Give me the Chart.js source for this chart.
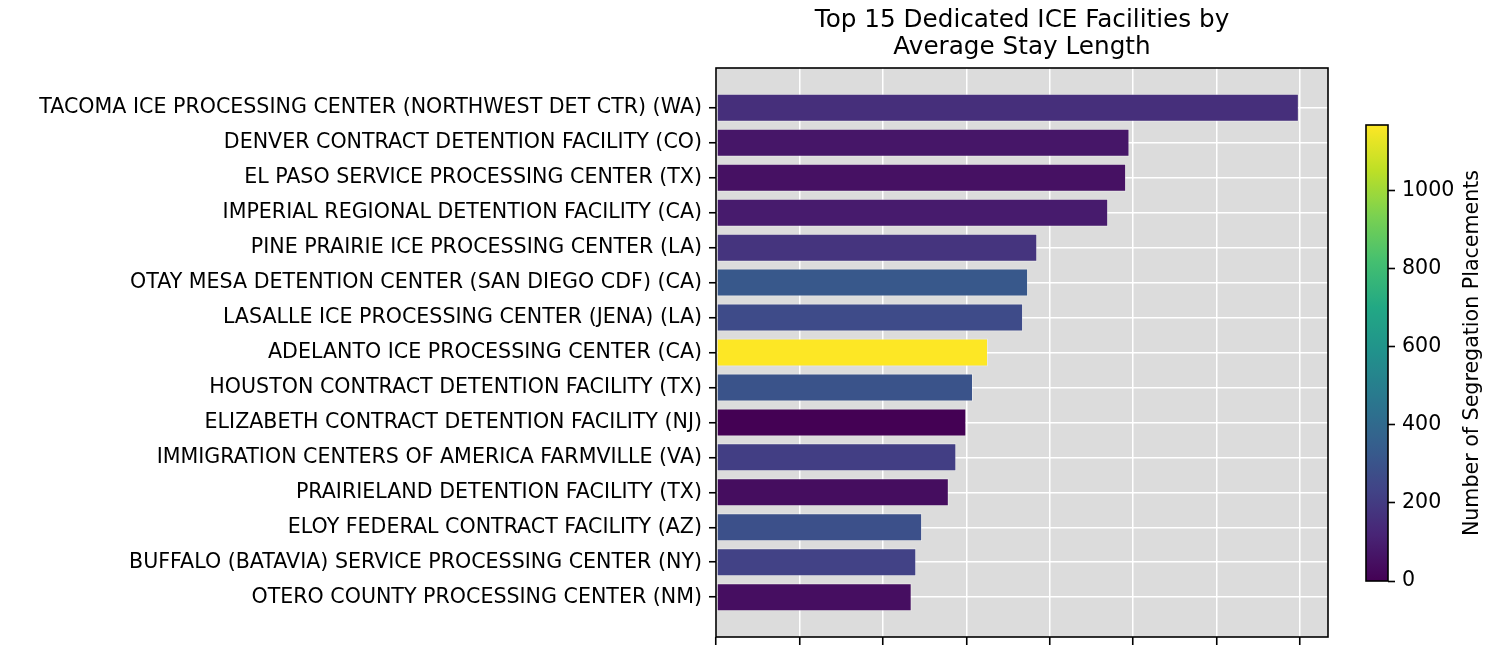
<!DOCTYPE html>
<html>
<head>
<meta charset="utf-8">
<script src="https://cdn.jsdelivr.net/npm/chart.js@4.4.1/dist/chart.umd.min.js"></script>
<style>
  body { margin: 0; background: #fff; }
  #wrap { position: relative; width: 1500px; height: 650px; }
  #main { position: absolute; left: 0; top: 0; }
  #cbar { position: absolute; left: 1340px; top: 0; }
</style>
</head>
<body>
<div id="wrap">
  <canvas id="main" width="1500" height="650"></canvas>
  <canvas id="cbar" width="160" height="650"></canvas>
</div>
<script>
// facilities, top to bottom
var facilities = [
    'TACOMA ICE PROCESSING CENTER (NORTHWEST DET CTR) (WA)',
    'DENVER CONTRACT DETENTION FACILITY (CO)',
    'EL PASO SERVICE PROCESSING CENTER (TX)',
    'IMPERIAL REGIONAL DETENTION FACILITY (CA)',
    'PINE PRAIRIE ICE PROCESSING CENTER (LA)',
    'OTAY MESA DETENTION CENTER (SAN DIEGO CDF) (CA)',
    'LASALLE ICE PROCESSING CENTER (JENA) (LA)',
    'ADELANTO ICE PROCESSING CENTER (CA)',
    'HOUSTON CONTRACT DETENTION FACILITY (TX)',
    'ELIZABETH CONTRACT DETENTION FACILITY (NJ)',
    'IMMIGRATION CENTERS OF AMERICA FARMVILLE (VA)',
    'PRAIRIELAND DETENTION FACILITY (TX)',
    'ELOY FEDERAL CONTRACT FACILITY (AZ)',
    'BUFFALO (BATAVIA) SERVICE PROCESSING CENTER (NY)',
    'OTERO COUNTY PROCESSING CENTER (NM)'
];
var avgStay = [69.85, 49.55, 49.15, 47.0, 38.5, 37.4, 36.8, 32.6, 30.8, 30.0, 28.8, 27.9, 24.7, 24.0, 23.45];
var placements = [158, 70, 53, 88, 175, 320, 263, 1167, 300, 0, 212, 40, 285, 225, 45];
var xTicks = [0, 10, 20, 30, 40, 50, 60, 70];
var cbarTicks = [0, 200, 400, 600, 800, 1000];

var FONT = 'DejaVu Sans';
var TICK_SIZE = 20.6;
var vmax = Math.max.apply(null, placements);
var vmin = Math.min.apply(null, placements);

// viridis, 11 stops
var viridisStops = ['#440154', '#482475', '#414487', '#355f8d', '#2a788e', '#21918c',
    '#22a884', '#44bf70', '#7ad151', '#bddf26', '#fde725'];

function hexRgb(h) {
    return [parseInt(h.substr(1, 2), 16), parseInt(h.substr(3, 2), 16), parseInt(h.substr(5, 2), 16)];
}

function viridis(t) {
    t = Math.max(0, Math.min(1, t));
    var p = t * (viridisStops.length - 1);
    var i = Math.min(Math.floor(p), viridisStops.length - 2);
    var f = p - i;
    var a = hexRgb(viridisStops[i]), b = hexRgb(viridisStops[i + 1]);
    var c = a.map(function (v, k) { return Math.round(v + (b[k] - v) * f); });
    return 'rgb(' + c.join(',') + ')';
}

var barColors = placements.map(function (v) { return viridis((v - vmin) / (vmax - vmin)); });

// grey plot background, black frame and centred title
var framePlugin = {
    id: 'frame',
    beforeDraw: function (chart) {
        var a = chart.chartArea, ctx = chart.ctx;
        ctx.save();
        ctx.fillStyle = '#dcdcdc';
        ctx.fillRect(a.left, a.top, a.right - a.left, a.bottom - a.top);
        ctx.restore();
    },
    afterDatasetsDraw: function (chart) {
        var a = chart.chartArea, ctx = chart.ctx;
        ctx.save();
        ctx.strokeStyle = '#000';
        ctx.lineWidth = 1.6;
        ctx.strokeRect(a.left, a.top, a.right - a.left, a.bottom - a.top);
        ctx.fillStyle = '#000';
        ctx.font = '24.7px "' + FONT + '"';
        ctx.textAlign = 'center';
        ctx.textBaseline = 'alphabetic';
        var cx = (a.left + a.right) / 2;
        ctx.fillText('Top 15 Dedicated ICE Facilities by', cx, 27);
        ctx.fillText('Average Stay Length', cx, 54);
        ctx.restore();
    }
};

var ctx1 = document.getElementById('main');
const chart1 = new Chart(ctx1, {
    type: 'bar',
    data: {
        datasets: [
            {
                data: avgStay.map(function (v, i) { return { x: v, y: i }; }),
                backgroundColor: barColors,
                borderColor: 'rgba(255, 255, 255, 0.35)',
                borderWidth: 1,
                borderSkipped: false,
                barPercentage: 0.8,
                categoryPercentage: 1.0
            }
        ]
    },
    options: {
        responsive: false,
        animation: false,
        indexAxis: 'y',
        layout: { padding: { top: 68, right: 172, bottom: 0, left: 0 } },
        plugins: { legend: { display: false }, tooltip: { enabled: false }, title: { display: false } },
        scales: {
            x: {
                type: 'linear',
                min: 0,
                max: avgStay[0] * 1.05,
                afterBuildTicks: function (axis) { axis.ticks = xTicks.map(function (v) { return { value: v }; }); },
                afterFit: function (axis) { axis.height = 13; axis.paddingLeft = 0; axis.paddingRight = 0; },
                ticks: { display: false },
                grid: { color: '#fff', lineWidth: 1.5, tickColor: '#000', tickLength: 8, tickWidth: 1.6 },
                border: { display: false }
            },
            y: {
                type: 'linear',
                offset: false,
                reverse: true,
                min: -1.14,
                max: facilities.length - 1 + 1.14,
                afterBuildTicks: function (axis) { axis.ticks = facilities.map(function (f, i) { return { value: i }; }); },
                afterFit: function (axis) { axis.width = 716; axis.paddingTop = 0; axis.paddingBottom = 0; },
                ticks: {
                    callback: function (v) { return facilities[v]; },
                    color: '#000',
                    font: { family: FONT, size: TICK_SIZE },
                    padding: 7
                },
                grid: { offset: false, color: '#fff', lineWidth: 1.5, tickColor: '#000', tickLength: 7, tickWidth: 1.6 },
                border: { display: false }
            }
        }
    },
    plugins: [framePlugin]
});

// colorbar
var cbarPlugin = {
    id: 'cbar',
    beforeDraw: function (chart) {
        var a = chart.chartArea, ctx = chart.ctx;
        var g = ctx.createLinearGradient(0, a.bottom, 0, a.top);
        for (var i = 0; i <= 50; i++) g.addColorStop(i / 50, viridis(i / 50));
        ctx.save();
        ctx.fillStyle = g;
        ctx.fillRect(a.left, a.top, a.right - a.left, a.bottom - a.top);
        ctx.restore();
    },
    afterDraw: function (chart) {
        var a = chart.chartArea, ctx = chart.ctx;
        ctx.save();
        ctx.strokeStyle = '#000';
        ctx.lineWidth = 1.6;
        ctx.strokeRect(a.left, a.top, a.right - a.left, a.bottom - a.top);
        ctx.translate(133, (a.top + a.bottom) / 2);
        ctx.rotate(-Math.PI / 2);
        ctx.fillStyle = '#000';
        ctx.font = TICK_SIZE + 'px "' + FONT + '"';
        ctx.textAlign = 'center';
        ctx.textBaseline = 'middle';
        ctx.fillText('Number of Segregation Placements', 0, 0);
        ctx.restore();
    }
};

var ctx2 = document.getElementById('cbar');
const chart2 = new Chart(ctx2, {
    type: 'scatter',
    data: { datasets: [{ data: [] }] },
    options: {
        responsive: false,
        animation: false,
        layout: { padding: { top: 125, right: 0, bottom: 69, left: 26 } },
        plugins: { legend: { display: false }, tooltip: { enabled: false } },
        scales: {
            x: { type: 'linear', display: false, min: 0, max: 1 },
            y: {
                type: 'linear',
                position: 'right',
                min: vmin,
                max: vmax,
                afterBuildTicks: function (axis) { axis.ticks = cbarTicks.map(function (v) { return { value: v }; }); },
                afterFit: function (axis) { axis.width = 112; axis.paddingTop = 0; axis.paddingBottom = 0; },
                ticks: {
                    callback: function (v) { return String(v); },
                    color: '#000',
                    font: { family: FONT, size: TICK_SIZE },
                    padding: 7
                },
                grid: { drawOnChartArea: false, tickColor: '#000', tickLength: 7, tickWidth: 1.6 },
                border: { display: false }
            }
        }
    },
    plugins: [cbarPlugin]
});
</script>
</body>
</html>
